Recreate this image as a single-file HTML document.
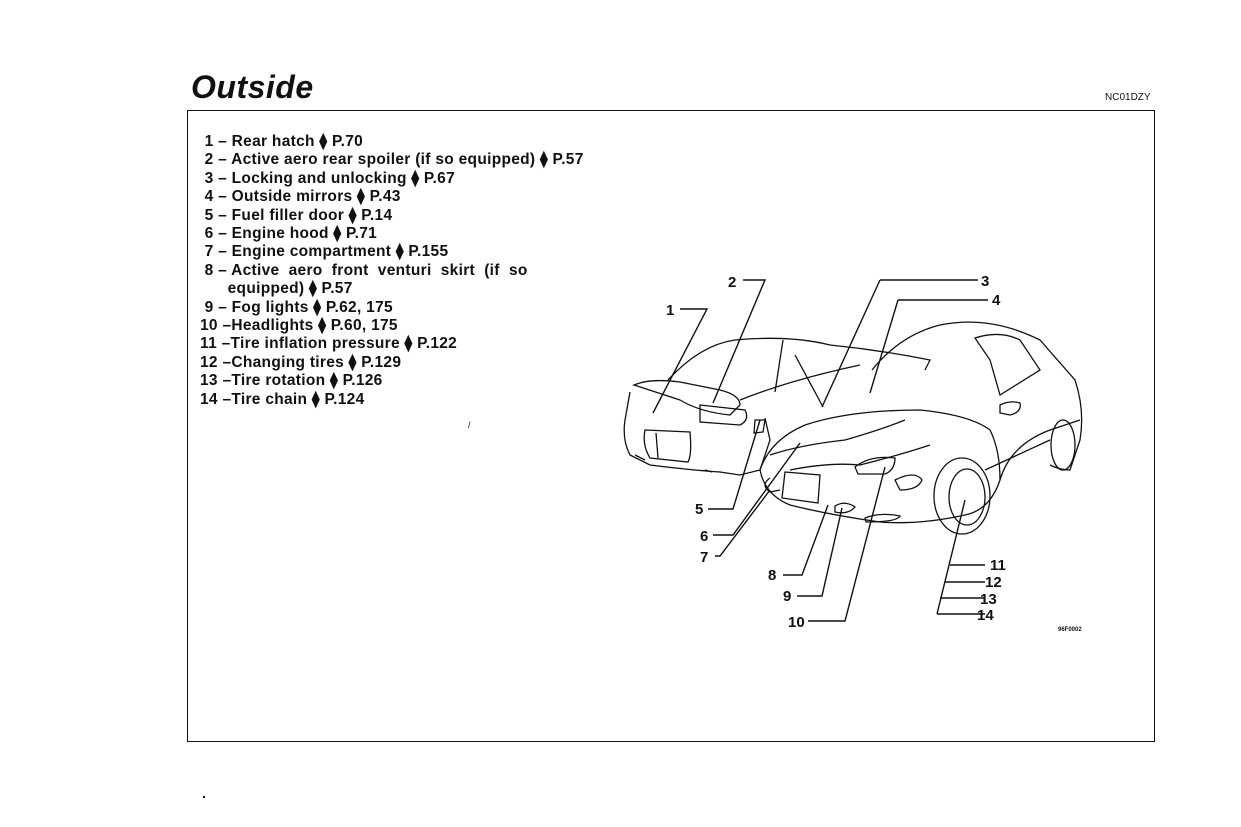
<!DOCTYPE html>
<html><head><meta charset="utf-8"><style>
body{margin:0;background:#fff;width:1241px;height:827px;position:relative;overflow:hidden;font-family:"Liberation Sans",sans-serif;color:#111}
.t{position:absolute;left:191px;top:69px;font-size:32px;font-weight:bold;font-style:italic;letter-spacing:0.5px}
.code{position:absolute;left:1105px;top:92px;font-size:10px}
.frame{position:absolute;left:187px;top:110px;width:966px;height:630px;border:1.5px solid #111}
.list{position:absolute;left:200px;top:133px;font-size:15.5px;font-weight:bold;line-height:18.4px;letter-spacing:0.3px;white-space:pre}
svg{position:absolute;left:0;top:0}
</style></head><body>
<div class="t">Outside</div>
<div class="code">NC01DZY</div>
<div class="frame"></div>
<div class="list"> 1 – Rear hatch ⧫ P.70
 2 – Active aero rear spoiler (if so equipped) ⧫ P.57
 3 – Locking and unlocking ⧫ P.67
 4 – Outside mirrors ⧫ P.43
 5 – Fuel filler door ⧫ P.14
 6 – Engine hood ⧫ P.71
 7 – Engine compartment ⧫ P.155
 8 – Active  aero  front  venturi  skirt  (if  so
      equipped) ⧫ P.57
 9 – Fog lights ⧫ P.62, 175
10 –Headlights ⧫ P.60, 175
11 –Tire inflation pressure ⧫ P.122
12 –Changing tires ⧫ P.129
13 –Tire rotation ⧫ P.126
14 –Tire chain ⧫ P.124</div>
<svg width="1241" height="827" fill="none" stroke="#111" stroke-width="1.3" font-family="Liberation Sans,sans-serif" font-weight="bold" font-size="15">
<!-- rear car -->
<path d="M668 380 Q700 345 735 340 Q790 335 830 345 Q880 350 930 360 L925 370"/>
<path d="M634 385 Q650 378 680 382 L720 390 Q740 395 740 405 L730 415 Q700 412 680 400 Z"/>
<path d="M630 392 L625 420 Q622 440 630 455 L650 465 Q690 470 720 472 L740 475 L760 470 L770 440 L765 418"/>
<path d="M645 430 L690 432 Q692 455 688 462 L650 458 Q642 445 645 430Z"/>
<path d="M656 433 L658 458"/>
<path d="M700 405 L745 410 Q750 420 740 425 L700 422Z"/>
<path d="M783 340 L775 392 M795 355 L823 407 M740 400 Q790 380 860 365"/>
<path d="M755 420 L765 420 L763 432 L754 433Z"/>
<path d="M635 455 L645 460 M705 470 L712 472"/>
<!-- front car -->
<path d="M872 370 Q900 335 940 325 Q990 315 1040 340 L1075 380 Q1085 410 1080 440 L1070 470 Q1060 470 1050 465"/>
<path d="M760 470 Q770 440 805 425 Q850 410 920 410 Q970 415 990 430 Q1000 450 1000 480 Q990 510 965 515 Q920 525 880 522 Q830 515 790 505 Q765 495 760 470Z"/>
<path d="M770 455 Q800 445 845 440 Q880 430 905 420 M790 470 Q830 462 860 465 Q900 455 930 445"/>
<path d="M855 467 Q870 455 895 458 Q895 470 885 474 L858 474Z"/>
<path d="M895 480 Q915 470 922 480 Q918 490 900 490Z"/>
<path d="M785 472 L820 475 L818 503 L782 498Z"/>
<path d="M835 506 Q845 500 855 507 Q848 515 835 512Z"/>
<path d="M865 518 Q880 512 900 516 Q897 522 866 522Z"/>
<path d="M770 478 Q760 485 770 492 L780 490"/>
<path d="M975 338 Q1000 330 1020 340 L1040 370 L1000 395 L990 360Z"/>
<path d="M1000 405 Q1010 400 1020 403 Q1022 412 1010 415 L1000 413Z"/>
<path d="M1000 480 Q1010 445 1050 430 L1080 420"/>
<ellipse cx="962" cy="496" rx="28" ry="38"/>
<ellipse cx="967" cy="497" rx="18" ry="28"/>
<ellipse cx="1063" cy="445" rx="12" ry="25"/>
<path d="M985 470 L1050 440"/>
<!-- leaders -->
<g stroke-width="1.4">
<path d="M680 309 L707 309 L653 413"/>
<path d="M743 280 L765 280 L713 403"/>
<path d="M880 280 L978 280 M880 280 L822 407"/>
<path d="M898 300 L988 300 M898 300 L870 393"/>
<path d="M708 509 L733 509 L760 420"/>
<path d="M713 535 L733 535 L800 443"/>
<path d="M715 556 L720 556 L770 490"/>
<path d="M783 575 L802 575 L828 505"/>
<path d="M797 596 L822 596 L842 508"/>
<path d="M808 621 L845 621 L885 467"/>
<path d="M950 565 L985 565 M945 582 L985 582 M940 598 L985 598 M937 614 L985 614 M965 500 L937 614"/>
</g>
<g fill="#111" stroke="none">
<text x="666" y="315">1</text><text x="728" y="287">2</text><text x="981" y="286">3</text><text x="992" y="305">4</text>
<text x="695" y="514">5</text><text x="700" y="541">6</text><text x="700" y="562">7</text>
<text x="768" y="580">8</text><text x="783" y="601">9</text><text x="788" y="627">10</text>
<text x="990" y="570">11</text><text x="985" y="587">12</text><text x="980" y="604">13</text><text x="977" y="620">14</text>
<text x="1058" y="631" font-size="6">96F0002</text>
<text x="468" y="428" font-size="9" font-weight="normal">/</text>
<rect x="203" y="796" width="2" height="2"/>
</g>
</svg>
</body></html>
